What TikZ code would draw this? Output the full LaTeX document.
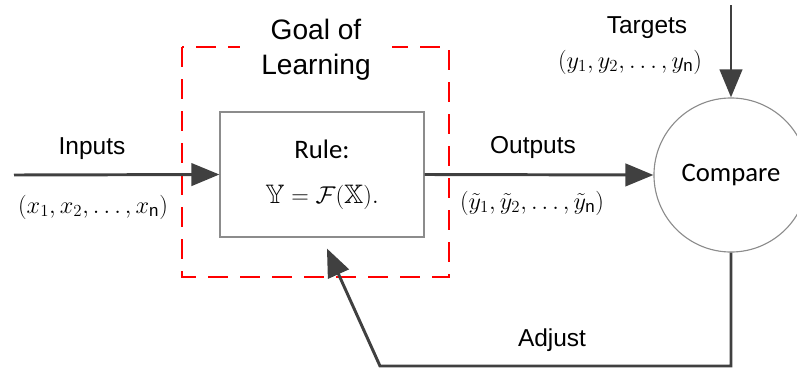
\documentclass[tikz,border=0pt]{standalone}
\usepackage{amsmath, amssymb}
\usepackage{fontspec}
\setmainfont{Liberation Sans}
\newfontfamily\calfont{Carlito}
\usetikzlibrary{arrows.meta}
\definecolor{arrowgray}{HTML}{404040}
\definecolor{edgegray}{HTML}{8C8C8C}
\definecolor{goalred}{HTML}{FF0000}

\begin{document}
\begin{tikzpicture}[
x=0.025cm, y=-0.025cm,
rulebox/.style={draw=edgegray, line width=0.8pt, rectangle, minimum width=5.1cm, minimum height=3.125cm, align=center, font=\calfont\fontsize{19}{32}\selectfont},
cmpcircle/.style={draw=edgegray, line width=0.8pt, circle, minimum size=3.85cm, inner sep=0pt, font=\calfont\fontsize{19}{22}\selectfont},
goalbox/.style={draw=goalred, line width=2.1pt, dash pattern=on 0.5cm off 0.3cm},
goallbl/.style={fill=white, minimum width=3.8cm, inner sep=2pt, align=center, font=\fontsize{20}{24.8}\selectfont},
lbl/.style={inner sep=0pt, font=\fontsize{17.4}{20}\selectfont},
mlbl/.style={inner sep=0pt, font=\fontsize{17.28}{20}\selectfont},
arrow/.style={-{Triangle[length=20pt,width=16pt]}, line width=2.1pt, draw=arrowgray}
]
\useasboundingbox (0,0) rectangle (797,368);

\draw[goalbox] (182,47) rectangle (449,277);
\node[goallbl] (goal) at (316,50) {Goal of\\Learning};

\node[rulebox] (rule) at (322,174.5) {Rule:\\$\mathbb{Y}=\mathcal{F}(\mathbb{X}).$};
\node[cmpcircle] (cmp) at (731,175) {Compare};

\coordinate (in) at (14,175);
\coordinate (tgt) at (731,5);
\coordinate (fbk) at (380,366);

\draw[arrow] (in) -- (rule.west);
\draw[arrow] (rule.east) -- (cmp.west);
\draw[arrow] (tgt) -- (cmp.north);
\draw[arrow, shorten >=0.3cm] (cmp.south) |- (fbk) -- (rule.south);

\node[lbl] (inlbl) at (92,149) {Inputs};
\node[mlbl] (inval) at (93,207) {$(x_1,x_2,\ldots,x_{\mathrm{n}})$};
\node[lbl] (outlbl) at (533,147) {Outputs};
\node[mlbl] (outval) at (532,203) {$(\tilde{y}_1,\tilde{y}_2,\ldots,\tilde{y}_{\mathrm{n}})$};
\node[lbl] (tgtlbl) at (647,28) {Targets};
\node[mlbl] (tgtval) at (630,62) {$(y_1,y_2,\ldots,y_{\mathrm{n}})$};
\node[lbl] (adjlbl) at (552,340) {Adjust};

\end{tikzpicture}
\end{document}
